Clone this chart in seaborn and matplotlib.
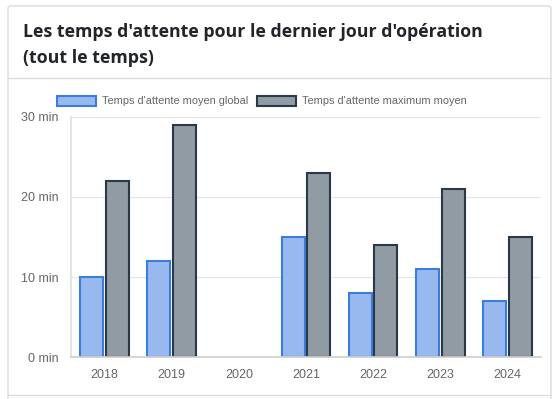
import matplotlib
matplotlib.use("Agg")
import matplotlib.pyplot as plt
from matplotlib.patches import FancyBboxPatch, Rectangle
from matplotlib.lines import Line2D
import seaborn as sns
import pandas as pd

years = ["2018", "2019", "2020", "2021", "2022", "2023", "2024"]
moyen_global = [10, 12, 0, 15, 8, 11, 7]
maximum_moyen = [22, 29, 0, 23, 14, 21, 15]
series_names = ["Temps d'attente moyen global", "Temps d'attente maximum moyen"]
y_ticks = [0, 10, 20, 30]
y_labels = ["0 min", "10 min", "20 min", "30 min"]
title_lines = ["Les temps d'attente pour le dernier jour d'opération", "(tout le temps)"]

df = pd.DataFrame({
    "year": years * 2,
    "value": moyen_global + maximum_moyen,
    "serie": [series_names[0]] * len(years) + [series_names[1]] * len(years),
})

sns.set_theme(style="white")
plt.rcParams["font.family"] = ["Liberation Sans", "DejaVu Sans"]

W, H = 559, 399
fig = plt.figure(figsize=(W / 100, H / 100), dpi=100)
fig.patch.set_facecolor("white")

def fx(px):
    return px / W

def fy(py):
    return 1 - py / H

# card
card = FancyBboxPatch((fx(8), fy(420)), fx(551) - fx(8), fy(6) - fy(420),
                      boxstyle="round,pad=0,rounding_size=0.006",
                      transform=fig.transFigure, facecolor="white",
                      edgecolor="#dcdcdc", linewidth=1.0, zorder=-5)
fig.patches.append(card)
fig.add_artist(Line2D([fx(8), fx(551)], [fy(78), fy(78)], transform=fig.transFigure,
                      color="#dcdcdc", linewidth=1.0, zorder=-4))
fig.add_artist(Line2D([fx(8), fx(551)], [fy(395), fy(395)], transform=fig.transFigure,
                      color="#dcdcdc", linewidth=1.0, zorder=-4))

for k, (line, base) in enumerate(zip(title_lines, [37, 63])):
    fig.text(fx(23), fy(base), line, fontsize=12.75, fontweight="bold", color="#212529",
             family=["Open Sans", "DejaVu Sans"], va="baseline")

ax = fig.add_axes([fx(71), fy(357), fx(541) - fx(71), fy(117) - fy(357)])

fills = ["#97b9ef", "#919ba3"]
edges = ["#3b7ddd", "#2a3847"]
sns.barplot(data=df, x="year", y="value", hue="serie", order=years,
            hue_order=series_names, palette=fills, width=0.76, gap=0.1,
            ax=ax, legend=False, saturation=1)

for i, cont in enumerate(ax.containers):
    for bar in cont:
        bar.set_edgecolor(edges[i])
        bar.set_linewidth(1.5)
        if bar.get_height() == 0:
            bar.set_visible(False)

ax.set_ylim(0, 30)
ax.set_xlim(-0.5, len(years) - 0.5)
ax.set_yticks(y_ticks)
ax.set_yticklabels(y_labels)
ax.set_xlabel("")
ax.set_ylabel("")
ax.grid(axis="y", color="#e5e5e5", linewidth=0.8)
ax.set_axisbelow(True)
for s in ["top", "right"]:
    ax.spines[s].set_visible(False)
ax.spines["left"].set_color("#e0e0e0")
ax.spines["bottom"].set_color("#d0d0d0")
ax.tick_params(axis="y", length=6, color="#e0e0e0", labelsize=9, labelcolor="#666666", pad=3)
ax.tick_params(axis="x", which="major", length=0, labelsize=9, labelcolor="#666666", pad=9)
ax.set_xticks([i - 0.5 for i in range(len(years) + 1)], minor=True)
ax.tick_params(axis="x", which="minor", length=6, color="#e0e0e0")
ax.set_facecolor("white")

# legend
handles = [Rectangle((0, 0), 1, 1, facecolor=fills[i], edgecolor=edges[i], linewidth=1.5)
           for i in range(2)]
fig.legend(handles, series_names, loc="center", bbox_to_anchor=(fx(262), fy(101)),
           ncol=2, frameon=False, fontsize=7.9, handlelength=3.5, handleheight=1.1,
           handletextpad=0.6, columnspacing=0.8, labelcolor="#666666")

fig.savefig("out.png", dpi=100, facecolor="white")
